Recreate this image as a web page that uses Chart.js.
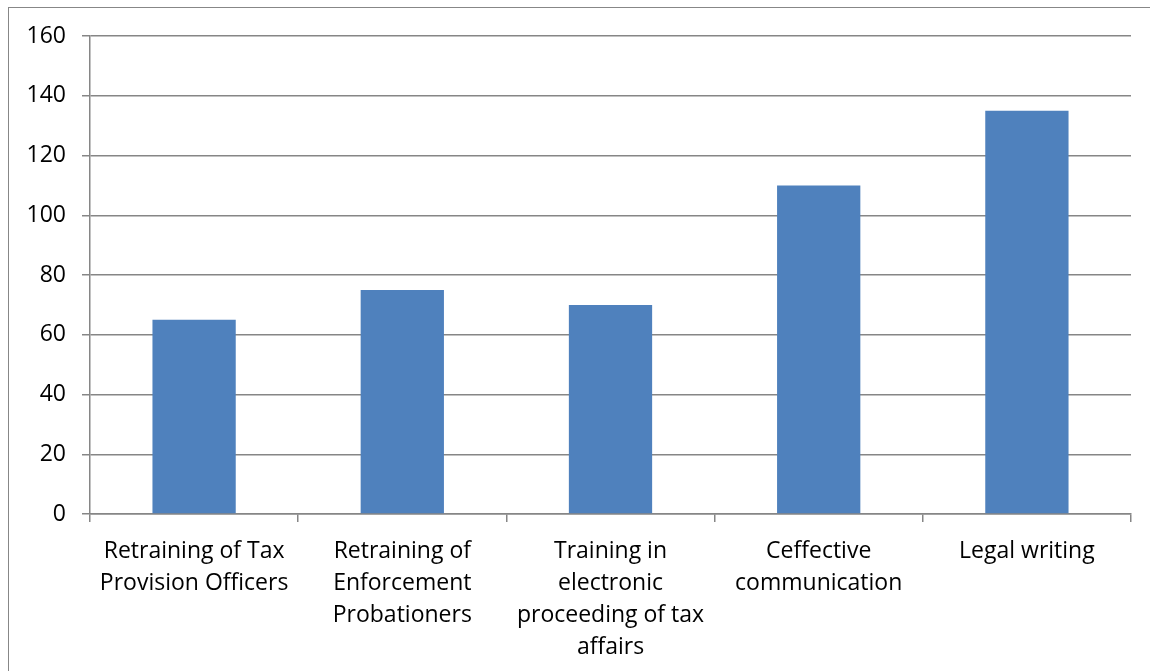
<!DOCTYPE html>
<html>
<head>
<meta charset="utf-8">
<script src="https://cdn.jsdelivr.net/npm/chart.js@4.4.0/dist/chart.umd.min.js"></script>
<style>
  html, body { margin: 0; padding: 0; background: #fff; }
  #wrap { position: relative; width: 1150px; height: 671px; overflow: hidden; }
  #frame { position: absolute; left: 8px; top: 7px; width: 1200px; height: 700px; border: 1px solid #878787; box-sizing: border-box; }
  #chart { position: absolute; left: 0; top: 0; }
</style>
</head>
<body>
<div id="wrap">
  <div id="frame"></div>
  <canvas id="chart" width="1150" height="671"></canvas>
</div>
<script>
// training courses and counts
const categories = [
  ['Retraining of Tax', 'Provision Officers'],
  ['Retraining of', 'Enforcement', 'Probationers'],
  ['Training in', 'electronic', 'proceeding of tax', 'affairs'],
  ['Ceffective', 'communication'],
  ['Legal writing']
];
const values = [65, 75, 70, 110, 135];
const yTicks = [0, 20, 40, 60, 80, 100, 120, 140, 160];

const GRID = '#868686';
const FONT = { family: '"Open Sans", Lato, sans-serif', size: 23, lineHeight: 1.4 };

new Chart(document.getElementById('chart'), {
  type: 'bar',
  data: {
    labels: categories,
    datasets: [{
      data: values,
      backgroundColor: '#4F81BD',
      borderWidth: 0,
      categoryPercentage: 0.4,
      barPercentage: 1
    }]
  },
  options: {
    responsive: false,
    animation: false,
    layout: { padding: { top: 36, right: 19, left: 0, bottom: 0 } },
    plugins: { legend: { display: false }, tooltip: { enabled: false } },
    scales: {
      x: {
        offset: true,
        grid: { offset: true, drawOnChartArea: false, color: GRID, tickLength: 8, lineWidth: 1.5 },
        border: { color: GRID, width: 1.5 },
        ticks: { color: '#000', font: FONT, maxRotation: 0, autoSkip: false, padding: 13 },
        afterFit: s => { s.height = 157; }
      },
      y: {
        min: 0,
        max: 160,
        afterBuildTicks: s => { s.ticks = yTicks.map(v => ({ value: v })); },
        grid: { color: GRID, tickLength: 8, lineWidth: 1.5 },
        border: { color: GRID, width: 1.5 },
        ticks: { color: '#000', font: FONT, padding: 16 },
        afterFit: s => { s.width = 90; }
      }
    }
  }
});
</script>
</body>
</html>
